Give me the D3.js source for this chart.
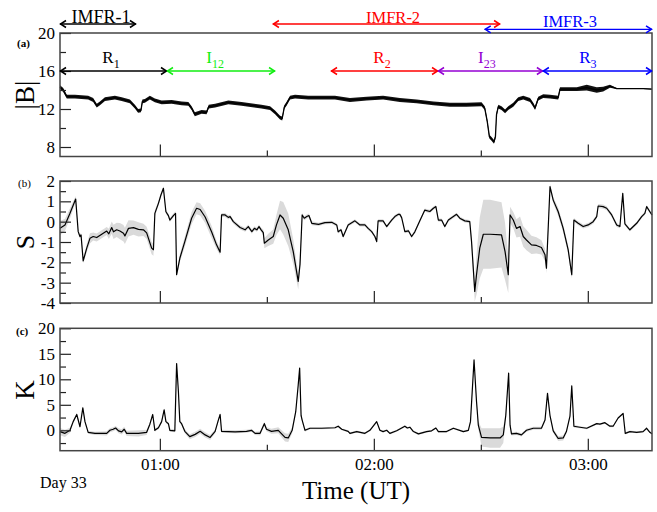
<!DOCTYPE html>
<html>
<head>
<meta charset="utf-8">
<script src="https://cdn.jsdelivr.net/npm/d3@7"></script>
<style>
  body { margin: 0; background: #fff; }
</style>
</head>
<body>
<svg id="svg-main"></svg>
<script>
const FONT = "'Liberation Serif', 'Times New Roman', Times, serif";

// time in minutes after 00:00 UT, Day 33
const TIME_RANGE = [32, 198];

const bTime = [32.0, 32.9, 33.9, 36.2, 39.9, 41.3, 42.3, 43.2, 44.6, 47.4, 49.3, 51.6, 53.0, 53.9, 54.7, 55.1, 55.8, 57.2, 58.6, 60.5,
    63.3, 66.1, 68.0, 68.9, 69.8, 71.7, 73.1, 73.7, 75.5, 79.2, 82.9, 88.5, 90.9, 92.3, 93.7, 94.3, 94.9, 95.6, 96.5, 97.9,
    101.6, 109.1, 113.3, 118.0, 122.6, 127.3, 132.0, 136.7, 141.3, 146.0, 150.2, 151.1, 151.8, 152.4, 153.0, 153.7, 154.1, 154.4, 154.9, 155.8,
    156.8, 157.7, 159.1, 160.5, 161.9, 163.8, 164.7, 165.2, 166.1, 167.5, 169.4, 171.7, 172.2, 174.0, 176.9, 179.7, 182.5, 184.3, 186.2, 188.1,
    191.8, 195.5, 198.0];
const bValue = [14.3, 14.0, 13.3, 13.3, 13.2, 12.95, 12.35, 12.6, 13.05, 13.2, 13.05, 12.8, 12.25, 11.8, 11.85, 12.8, 12.85, 13.2, 12.9, 12.7,
    12.75, 12.6, 12.55, 12.1, 11.45, 11.7, 11.65, 12.25, 12.35, 12.7, 12.55, 12.25, 12.1, 11.65, 11.1, 11.0, 12.2, 12.6, 13.2, 13.3,
    13.2, 13.2, 12.95, 13.1, 13.2, 12.95, 12.8, 12.6, 12.45, 12.45, 12.5, 12.1, 10.7, 9.1, 8.85, 8.55, 9.1, 11.4, 12.25, 12.1,
    11.75, 12.1, 12.45, 13.05, 13.2, 12.95, 12.45, 12.1, 13.1, 13.35, 13.3, 13.2, 14.1, 14.1, 14.1, 14.25, 14.0, 14.1, 14.4, 14.15,
    14.15, 14.15, 14.1];
// visible fluctuation half-width of the |B| trace
const bSpread = [0.2, 0.2, 0.2, 0.2, 0.2, 0.2, 0.2, 0.2, 0.2, 0.2, 0.2, 0.2, 0.2, 0.2, 0.2, 0.2, 0.2, 0.2, 0.2, 0.2,
    0.2, 0.2, 0.2, 0.2, 0.2, 0.2, 0.2, 0.2, 0.2, 0.2, 0.2, 0.2, 0.2, 0.2, 0.2, 0.2, 0.2, 0.2, 0.2, 0.2,
    0.2, 0.2, 0.2, 0.2, 0.2, 0.2, 0.2, 0.2, 0.2, 0.2, 0.2, 0.2, 0.2, 0.2, 0.2, 0.2, 0.2, 0.2, 0.2, 0.2,
    0.2, 0.2, 0.2, 0.2, 0.2, 0.2, 0.2, 0.2, 0.2, 0.2, 0.2, 0.2, 0.2, 0.2, 0.2, 0.3, 0.3, 0.25, 0.15, 0.05,
    0.04, 0.04, 0.04];

const sTime = [32.0, 33.4, 34.8, 36.4, 37.1, 37.6, 37.9, 38.5, 39.5, 40.4, 41.3, 42.3, 43.7, 45.1, 45.7, 46.5, 47.0, 47.9, 48.8, 49.8,
    50.2, 51.2, 52.6, 54.0, 55.4, 56.3, 57.7, 58.2, 58.6, 59.6, 60.3, 61.0, 61.7, 62.4, 62.8, 63.8, 64.4, 64.7, 65.6, 67.0,
    68.9, 70.3, 71.3, 72.7, 74.5, 75.9, 76.9, 77.3, 78.3, 79.2, 79.7, 80.6, 82.5, 83.9, 84.8, 85.8, 86.5, 87.2, 87.8, 88.4,
    89.0, 89.3, 90.4, 91.8, 92.7, 93.7, 94.6, 96.0, 97.4, 98.8, 99.3, 99.9, 100.5, 101.2, 101.8, 102.6, 104.5, 106.3, 108.2, 109.6,
    110.0, 110.8, 111.4, 112.8, 114.7, 116.1, 117.5, 118.4, 119.4, 120.3, 120.8, 121.2, 122.6, 123.6, 125.0, 125.9, 126.9, 127.3, 127.8, 128.7,
    129.7, 130.6, 131.5, 132.9, 134.3, 135.7, 136.7, 137.4, 138.1, 139.0, 139.9, 140.9, 142.3, 143.2, 144.1, 145.5, 146.9, 147.4, 148.3, 148.8,
    149.7, 150.7, 152.6, 155.8, 156.8, 157.7, 158.2, 159.1, 160.0, 161.0, 161.9, 162.8, 164.2, 165.6, 167.0, 168.0, 168.4, 169.4, 170.3, 171.7,
    173.1, 174.5, 175.5, 176.1, 177.3, 178.7, 180.1, 181.5, 182.5, 182.9, 184.3, 185.3, 186.7, 188.1, 189.0, 189.8, 190.4, 191.8, 193.7, 195.1,
    196.0, 196.5, 197.4, 198.0];
const sValue = [-0.32, -0.16, 0.41, 1.11, -0.49, -0.73, -0.65, -1.93, -1.3, -0.82, -0.73, -0.78, -0.62, -0.46, -0.6, -0.29, -0.5, -0.4, -0.46, -0.57,
    -0.7, -0.33, -0.29, -0.38, -0.4, -0.55, -1.3, -1.38, 0.41, 0.9, 1.31, 1.64, 0.49, 0.3, 0.08, 0.3, 0.41, -2.61, -1.8, -0.98,
    0.17, 0.66, 0.6, 0.23, -0.5, -1.14, -1.5, 0.33, 0.33, 0.21, 0.25, 0.0, -0.29, -0.4, -0.24, -0.49, -0.33, -0.4, -0.24, -0.4,
    -0.54, -1.06, -0.9, -0.73, -0.16, 0.33, 0.17, -0.4, -1.47, -2.94, -2.1, 0.33, 0.17, 0.25, 0.3, -0.08, -0.13, -0.05, -0.03, -0.16,
    -0.5, -0.4, -0.73, -0.16, 0.04, -0.16, -0.16, -0.33, -0.49, -0.73, -0.98, 0.04, 0.04, -0.24, 0.08, 0.25, 0.36, 0.36, 0.2, -0.49,
    -0.45, -0.73, -0.5, 0.04, 0.57, 0.5, 0.66, 0.74, 0.08, 0.08, -0.24, 0.08, 0.25, 0.36, 0.17, 0.04, 0.0, -0.98, -3.43, -2.6,
    -1.3, -0.62, -0.62, -0.65, -1.47, -2.61, 0.33, 0.08, -0.33, -0.24, -0.73, -0.9, -1.14, -1.17, -1.27, -1.63, -2.29, 1.72, 1.06, 0.49,
    -0.33, -1.39, -2.61, 0.08, -0.08, -0.24, -0.16, 0.0, 0.25, 0.77, 0.74, 0.66, 0.33, -0.16, -0.24, 1.39, -0.11, -0.4, -0.08, 0.25,
    0.41, 0.74, 0.49, 0.33];
const sError = [0.35, 0.3, 0.25, 0.15, 0.1, 0.1, 0.1, 0.12, 0.2, 0.25, 0.2, 0.2, 0.2, 0.2, 0.25, 0.3, 0.35, 0.35, 0.4, 0.4,
    0.4, 0.4, 0.35, 0.35, 0.3, 0.3, 0.3, 0.3, 0.15, 0.12, 0.1, 0.1, 0.1, 0.1, 0.1, 0.1, 0.1, 0.15, 0.2, 0.25,
    0.3, 0.3, 0.3, 0.3, 0.3, 0.2, 0.15, 0.1, 0.1, 0.1, 0.1, 0.1, 0.1, 0.1, 0.1, 0.1, 0.1, 0.1, 0.1, 0.1,
    0.15, 0.25, 0.3, 0.35, 0.5, 0.7, 0.8, 0.8, 0.6, 0.4, 0.3, 0.1, 0.1, 0.1, 0.1, 0.1, 0.08, 0.08, 0.08, 0.08,
    0.08, 0.08, 0.08, 0.08, 0.08, 0.08, 0.08, 0.08, 0.08, 0.08, 0.08, 0.08, 0.08, 0.08, 0.08, 0.08, 0.08, 0.08, 0.08, 0.08,
    0.08, 0.08, 0.08, 0.08, 0.08, 0.08, 0.08, 0.08, 0.08, 0.08, 0.08, 0.08, 0.08, 0.08, 0.08, 0.08, 0.08, 0.3, 0.5, 1.0,
    1.5, 1.7, 1.7, 1.6, 1.4, 0.9, 0.4, 0.4, 0.45, 0.5, 0.5, 0.5, 0.45, 0.4, 0.35, 0.3, 0.25, 0.15, 0.15, 0.2,
    0.2, 0.2, 0.2, 0.1, 0.1, 0.1, 0.1, 0.1, 0.1, 0.1, 0.1, 0.1, 0.1, 0.1, 0.08, 0.08, 0.08, 0.08, 0.08, 0.08,
    0.08, 0.08, 0.08, 0.08];

const kTime = [32.0, 33.4, 34.8, 35.7, 36.7, 37.6, 38.4, 39.0, 39.9, 41.8, 45.1, 46.0, 46.9, 47.6, 48.4, 49.3, 50.0, 50.7, 54.0, 56.3,
    57.2, 58.0, 58.6, 59.6, 60.5, 61.2, 61.7, 62.4, 62.8, 64.2, 64.7, 65.2, 65.6, 66.1, 67.0, 68.4, 69.9, 71.3, 72.7, 74.1,
    75.5, 76.4, 76.9, 77.3, 81.1, 84.3, 85.7, 86.7, 88.1, 89.3, 89.9, 91.3, 93.2, 95.1, 96.0, 97.1, 98.1, 98.8, 99.2, 99.6,
    99.9, 100.7, 102.1, 105.4, 109.1, 110.0, 111.0, 112.8, 113.3, 115.2, 117.5, 118.9, 120.8, 121.7, 122.6, 123.6, 124.5, 126.4, 128.7, 129.4,
    130.1, 131.1, 132.5, 134.8, 136.2, 137.4, 138.1, 140.4, 142.3, 145.1, 146.5, 147.1, 148.1, 148.8, 149.3, 150.2, 152.6, 155.4, 156.3, 157.0,
    157.8, 158.2, 158.6, 160.0, 161.4, 162.8, 164.7, 167.0, 168.0, 168.7, 169.4, 170.3, 171.7, 173.1, 174.0, 175.0, 175.5, 176.1, 177.8, 179.7,
    182.5, 183.4, 184.8, 186.2, 187.1, 188.5, 189.9, 190.5, 191.8, 193.7, 195.5, 196.5, 197.4, 198.0];
const kValue = [-0.27, -0.6, 0.0, 1.7, 3.1, 0.7, 4.4, 1.7, -0.4, -0.6, -0.6, 0.0, 0.2, 0.45, -0.1, -0.3, 0.2, -0.6, -0.6, -0.4,
    1.2, 3.1, 0.0, 0.5, 1.7, 4.0, 1.7, 1.3, 0.0, -0.1, 13.1, 7.6, 1.7, 1.3, -0.2, -1.25, -0.8, -0.2, -0.9, -1.4,
    -0.2, 2.0, 3.1, -0.2, -0.3, -0.2, 0.0, -0.6, -0.6, 1.3, 0.2, -0.2, 0.0, -1.4, -1.5, 0.0, 3.65, 8.9, 12.2, 2.9,
    2.0, 0.0, 0.4, 0.4, 0.5, 0.8, 0.2, -0.2, -0.6, -0.25, -0.6, 0.0, 1.7, 0.0, -0.25, 0.0, -0.6, -0.1, 0.8, 0.45,
    0.6, -0.25, -0.7, -0.25, -0.1, 0.45, -0.25, -0.25, 0.4, -0.25, 0.0, 1.7, 13.8, 5.6, 1.0, -1.4, -1.5, -1.5, -0.9, 2.9,
    11.2, 1.0, -0.7, -0.6, -0.9, 0.0, 0.4, 0.4, 2.0, 7.25, 2.9, -0.1, -1.6, -1.5, -0.25, 2.8, 8.7, 0.8, 0.6, 0.4,
    1.3, 1.2, 1.5, 0.8, 0.8, 2.4, 3.3, -0.6, -0.25, -0.4, -0.25, 0.4, -0.4, -0.7];
const kError = [0.7, 0.7, 0.5, 0.3, 0.3, 0.3, 0.3, 0.3, 0.3, 0.3, 0.4, 0.4, 0.4, 0.4, 0.5, 0.5, 0.5, 0.5, 0.6, 0.5,
    0.3, 0.3, 0.3, 0.3, 0.3, 0.3, 0.3, 0.3, 0.3, 0.3, 0.3, 0.3, 0.3, 0.3, 0.4, 0.5, 0.5, 0.5, 0.5, 0.5,
    0.4, 0.3, 0.3, 0.3, 0.3, 0.3, 0.3, 0.3, 0.4, 0.4, 0.4, 0.5, 0.6, 0.8, 0.8, 0.6, 0.4, 0.3, 0.3, 0.3,
    0.3, 0.3, 0.2, 0.2, 0.2, 0.2, 0.2, 0.2, 0.2, 0.2, 0.2, 0.2, 0.2, 0.2, 0.2, 0.2, 0.2, 0.2, 0.2, 0.2,
    0.2, 0.2, 0.2, 0.2, 0.2, 0.2, 0.2, 0.2, 0.2, 0.2, 0.2, 0.2, 0.3, 0.5, 0.8, 1.8, 1.9, 1.9, 1.6, 0.8,
    0.4, 0.3, 0.3, 0.3, 0.3, 0.3, 0.3, 0.3, 0.3, 0.3, 0.3, 0.4, 0.5, 0.5, 0.4, 0.3, 0.3, 0.3, 0.2, 0.2,
    0.2, 0.2, 0.2, 0.2, 0.2, 0.2, 0.2, 0.2, 0.2, 0.2, 0.2, 0.2, 0.2, 0.2];

// interval annotations
const imfrNames = ["IMFR-1", "IMFR-2", "IMFR-3"];
const imfrStart = [32, 91.7, 151.1];
const imfrEnd = [53.3, 155.4, 198];
const imfrLabelAt = [43.5, 125.4, 175];
const imfrColors = ["#000000", "#ff0000", "#0000ff"];

const regionMain = ["R", "I", "R", "I", "R"];
const regionSub = ["1", "12", "2", "23", "3"];
const regionStart = [32, 62, 108, 138, 167.4];
const regionEnd = [62, 92.3, 138, 167.4, 198];
const regionLabelAt = [46.3, 75.5, 122.3, 151.7, 180];
const regionColors = ["#000000", "#11ee11", "#ff0000", "#9400d3", "#0000ff"];

const hourTicks = [60, 120, 180];
const hourLabels = ["01:00", "02:00", "03:00"];
const halfHourTicks = [90, 150];

var Dims = {
    Svg: { Width: 657, Height: 512 },
    Left: 60,
    Right: 652,
    PanelA: { Top: 33, Bottom: 156.5 },
    PanelB: { Top: 181, Bottom: 303 },
    PanelC: { Top: 328.3, Bottom: 450.7 }
};

var svg = d3.select("svg#svg-main")
    .attr("width", Dims.Svg.Width)
    .attr("height", Dims.Svg.Height)
    .style("font-family", FONT);

var x = d3.scaleLinear().domain(TIME_RANGE).range([Dims.Left, Dims.Right]);

drawPanelA();
drawPanelB();
drawPanelC();
drawAnnotations();

function zip(t, v, e) {
    return t.map((d, i) => ({ t: d, v: v[i], e: e ? e[i] : 0 }));
}

function addText(parent, str, size) {
    return parent.append("text")
        .attr("font-family", FONT)
        .style("font-family", FONT)
        .style("font-size", size + "px")
        .text(str);
}

function drawFrame(y, panel, majorY, minorY, showX) {
    var g = svg.append("g");

    g.append("g")
        .attr("transform", `translate(${Dims.Left},0)`)
        .call(d3.axisLeft(y).tickValues(minorY).tickSize(-6).tickFormat(""))
        .call(s => s.select(".domain").remove());

    g.append("g")
        .attr("transform", `translate(${Dims.Left},0)`)
        .call(d3.axisLeft(y).tickValues(majorY).tickSize(-11).tickPadding(5).tickFormat(d => String(d)))
        .call(s => s.select(".domain").remove());

    g.append("g")
        .attr("transform", `translate(0,${panel.Bottom})`)
        .call(d3.axisBottom(x).tickValues(halfHourTicks).tickSize(-6).tickFormat(""))
        .call(s => s.select(".domain").remove());

    g.append("g")
        .attr("transform", `translate(0,${panel.Bottom})`)
        .call(d3.axisBottom(x).tickValues(hourTicks).tickSize(-12).tickPadding(7)
            .tickFormat((d, i) => showX ? hourLabels[i] : ""))
        .call(s => s.select(".domain").remove());

    g.selectAll("g").attr("font-family", FONT).attr("font-size", 17);
    g.selectAll(".tick line").attr("stroke", "#222").attr("stroke-width", 1.2);
    g.selectAll(".tick text")
        .attr("fill", "#000")
        .attr("font-family", FONT)
        .style("font-family", FONT)
        .style("font-size", "17px");

    g.append("rect")
        .attr("x", Dims.Left)
        .attr("y", panel.Top)
        .attr("width", Dims.Right - Dims.Left)
        .attr("height", panel.Bottom - panel.Top)
        .attr("fill", "none")
        .attr("stroke", "#444")
        .attr("stroke-width", 1.5);
}

function yLabel(text, cy, size) {
    addText(svg, text, size)
        .attr("transform", `translate(34,${cy}) rotate(-90)`)
        .attr("text-anchor", "middle");
}

function panelTag(text, px, py, bold) {
    addText(svg, text, 11)
        .attr("x", px)
        .attr("y", py)
        .style("font-weight", bold ? "bold" : "normal");
}

function drawSeries(y, data, bandColor, lineWidth, bottom) {
    var plot = svg.append("g");
    plot.append("path")
        .datum(data)
        .attr("fill", bandColor)
        .attr("d", d3.area().x(d => x(d.t))
            .y0(d => Math.min(y(d.v - d.e), bottom))
            .y1(d => y(d.v + d.e)));
    plot.append("path")
        .datum(data)
        .attr("fill", "none")
        .attr("stroke", "#000")
        .attr("stroke-width", lineWidth)
        .attr("stroke-linejoin", "round")
        .attr("d", d3.line().x(d => x(d.t)).y(d => y(d.v)));
}

function drawPanelA() {
    var p = Dims.PanelA;
    var y = d3.scaleLinear().domain([7, 20]).range([p.Bottom, p.Top]);
    drawSeries(y, zip(bTime, bValue, bSpread), "#111", 1.3, p.Bottom);
    drawFrame(y, p, [8, 12, 16, 20], [10, 14, 18], false);
    yLabel("|B|", 95, 27);
    panelTag("(a)", 17, 47, true);
}

function drawPanelB() {
    var p = Dims.PanelB;
    var y = d3.scaleLinear().domain([-4, 2]).range([p.Bottom, p.Top]);
    drawSeries(y, zip(sTime, sValue, sError), "#dadada", 1.2, p.Bottom);
    drawFrame(y, p, [-4, -3, -2, -1, 0, 1, 2], [-3.5, -2.5, -1.5, -0.5, 0.5, 1.5], false);
    yLabel("S", 242, 26);
    panelTag("(b)", 18, 187, false);
}

function drawPanelC() {
    var p = Dims.PanelC;
    var y = d3.scaleLinear().domain([-4, 20]).range([p.Bottom, p.Top]);
    drawSeries(y, zip(kTime, kValue, kError), "#dadada", 1.2, p.Bottom);
    drawFrame(y, p, [0, 5, 10, 15, 20], [-2.5, 2.5, 7.5, 12.5, 17.5], true);
    yLabel("K", 390, 27);
    panelTag("(c)", 16, 335, true);

    addText(svg, "Day 33", 16)
        .attr("x", 40)
        .attr("y", 488);

    addText(svg, "Time (UT)", 25)
        .attr("x", 356)
        .attr("y", 499)
        .attr("text-anchor", "middle");
}

function doubleArrow(g, x1, x2, yy, color) {
    var h = 6, w = 3.5;
    g.append("line")
        .attr("x1", x1).attr("x2", x2)
        .attr("y1", yy).attr("y2", yy)
        .attr("stroke", color)
        .attr("stroke-width", 1.3);
    g.append("path")
        .attr("d", `M${x1 + h},${yy - w}L${x1 + 0.5},${yy}L${x1 + h},${yy + w}` +
                   `M${x2 - h},${yy - w}L${x2 - 0.5},${yy}L${x2 - h},${yy + w}`)
        .attr("fill", "none")
        .attr("stroke", color)
        .attr("stroke-width", 1.5);
}

function drawAnnotations() {
    var g = svg.append("g");
    var imfrY = [24, 24, 29.3];
    var imfrBase = [22.5, 22.5, 27.3];
    var imfrSize = [18, 16.5, 16.5];

    imfrNames.forEach(function (name, i) {
        doubleArrow(g, x(imfrStart[i]), x(imfrEnd[i]), imfrY[i], imfrColors[i]);
        addText(g, name, imfrSize[i])
            .attr("x", x(imfrLabelAt[i]))
            .attr("y", imfrBase[i])
            .attr("text-anchor", "middle")
            .attr("fill", imfrColors[i]);
    });

    regionMain.forEach(function (m, i) {
        doubleArrow(g, x(regionStart[i]), x(regionEnd[i]), 71, regionColors[i]);
        var t = addText(g, null, 17)
            .attr("x", x(regionLabelAt[i]))
            .attr("y", 63)
            .attr("text-anchor", "middle")
            .attr("fill", regionColors[i]);
        t.append("tspan").text(m);
        t.append("tspan")
            .attr("dy", 5)
            .style("font-size", "12px")
            .text(regionSub[i]);
    });
}
</script>
</body>
</html>
